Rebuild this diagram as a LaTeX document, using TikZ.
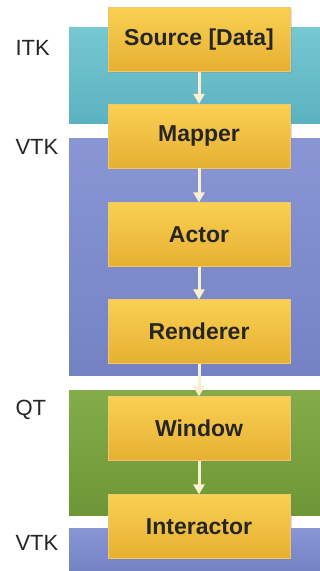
\documentclass[tikz,border=0pt]{standalone}
\usepackage{fontspec}
\setmainfont{Liberation Sans}
\usetikzlibrary{arrows.meta,shadows}

\begin{document}
\begin{tikzpicture}[x=1pt, y=-1pt, font=\fontsize{22}{25}\selectfont, line cap=round, line join=round]
  \definecolor{itk}{RGB}{92,178,192}
  \definecolor{itktop}{RGB}{118,200,210}
  \definecolor{vtk}{RGB}{116,130,196}
  \definecolor{vtktop}{RGB}{138,150,212}
  \definecolor{qt}{RGB}{110,150,54}
  \definecolor{qttop}{RGB}{132,172,74}
  \definecolor{goldtop}{RGB}{250,208,82}
  \definecolor{goldbot}{RGB}{230,176,50}
  \definecolor{cream}{RGB}{250,240,208}

  \tikzset{
    stage/.style={minimum width=182pt, minimum height=64pt, inner sep=0pt,
      top color=goldtop, bottom color=goldbot, draw=goldbot!70!white, line width=0.3pt,
      drop shadow={shadow xshift=1.5pt, shadow yshift=-1.5pt, opacity=0.25},
      font=\fontsize{23}{26}\selectfont\bfseries, text=black!85},
    layer/.style={anchor=west, text=black!85},
    flow/.style={draw=cream, line width=3pt, line cap=butt,
      -{Triangle[width=11pt,length=10pt]}}
  }

  \useasboundingbox (0,0) rectangle (320,571);
  \fill[white] (0,0) rectangle (320,571);

  % library bands
  \shade[top color=itktop, bottom color=itk] (69,27) rectangle (320,123);
  \shade[top color=vtktop, bottom color=vtk] (69,138) rectangle (320,375);
  \shade[top color=qttop, bottom color=qt] (69,390) rectangle (320,515);
  \shade[top color=vtktop, bottom color=vtk] (69,528) rectangle (320,571);

  \node[layer] (litk) at (12,48) {ITK};
  \node[layer] (lvtk) at (12,147) {VTK};
  \node[layer] (lqt) at (12,410) {QT};
  \node[layer] (lvtkb) at (12,543) {VTK};

  % pipeline
  \node[stage] (source) at (199,39.5) {Source [Data]};
  \node[stage] (mapper) at (199,136) {Mapper};
  \node[stage] (actor) at (199,234.5) {Actor};
  \node[stage] (renderer) at (199,331.5) {Renderer};
  \node[stage] (window) at (199,428.5) {Window};
  \node[stage] (interactor) at (199,526.5) {Interactor};

  \draw[flow] (source) -- (mapper);
  \draw[flow] (mapper) -- (actor);
  \draw[flow] (actor) -- (renderer);
  \draw[flow] (renderer) -- (window);
  \draw[flow] (window) -- (interactor);
\end{tikzpicture}
\end{document}
